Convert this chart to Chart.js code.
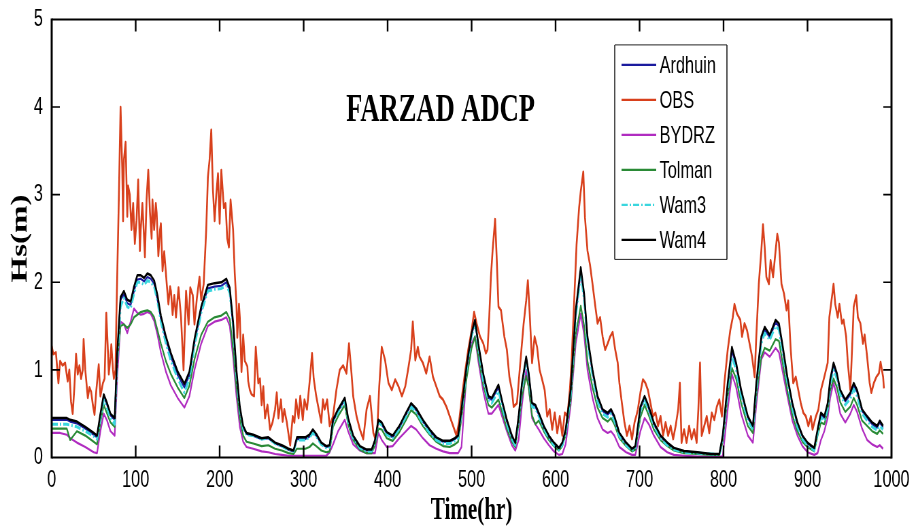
<!DOCTYPE html>
<html>
<head>
<meta charset="utf-8">
<title>FARZAD ADCP</title>
<script src="https://cdn.jsdelivr.net/npm/chart.js@4/dist/chart.umd.min.js"></script>
<style>
  html, body { margin: 0; padding: 0; background: #fff; overflow: hidden; }
  /* the source figure is horizontally squeezed, so draw wide and squeeze */
  #wrap { width: 1341px; height: 529px; transform: scaleX(0.68); transform-origin: 0 0; }
</style>
</head>
<body>
<div id="wrap"><canvas id="chart" width="1341" height="529"></canvas></div>
<script>
// hours shared by the five model runs
const modelHours = [
  0, 10, 18, 22, 30, 40, 50, 54, 58, 62,
  66, 70, 75, 78, 82, 86, 90, 94, 98, 102,
  106, 110, 114, 118, 122, 126, 130, 136, 142, 150,
  158, 164, 170, 178, 186, 194, 202, 208, 212, 216,
  220, 224, 228, 232, 240, 250, 258, 266, 274, 282,
  288, 292, 302, 307, 311, 315, 321, 327, 331, 335,
  341, 349, 353, 359, 367, 375, 381, 385, 389, 393,
  399, 406, 414, 422, 428, 434, 442, 450, 458, 466,
  474, 480, 484, 488, 494, 500, 504, 508, 514, 520,
  524, 532, 536, 542, 548, 552, 556, 560, 565, 568,
  572, 576, 580, 586, 592, 598, 604, 608, 612, 618,
  624, 630, 634, 638, 644, 650, 656, 662, 666, 670,
  676, 684, 691, 695, 701, 706, 711, 717, 725, 733,
  741, 753, 769, 785, 795, 799, 805, 810, 815, 821,
  829, 835, 839, 845, 849, 855, 862, 866, 870, 876,
  882, 888, 894, 900, 908, 912, 916, 920, 924, 927,
  931, 935, 939, 945, 951, 955, 959, 965, 971, 977,
  983, 986, 990
];

const ardhuin = [
  0.43, 0.43, 0.43, 0.41, 0.39, 0.33, 0.26, 0.23, 0.48, 0.7,
  0.6, 0.48, 0.43, 1.15, 1.8, 1.86, 1.76, 1.74, 1.9, 2.03,
  2.04, 2.01, 2.06, 2.04, 1.98, 1.8, 1.58, 1.34, 1.15, 0.94,
  0.8, 0.94, 1.31, 1.68, 1.93, 1.95, 1.96, 2.0, 1.9, 1.5,
  0.96, 0.55, 0.34, 0.27, 0.25, 0.21, 0.22, 0.16, 0.13, 0.09,
  0.07, 0.21, 0.21, 0.24, 0.3, 0.25, 0.16, 0.12, 0.13, 0.41,
  0.53, 0.66, 0.43, 0.23, 0.12, 0.08, 0.08, 0.19, 0.41, 0.38,
  0.27, 0.23, 0.34, 0.49, 0.6, 0.54, 0.41, 0.3, 0.21, 0.18,
  0.18, 0.21, 0.24, 0.53, 1.01, 1.4, 1.55, 1.28, 0.92, 0.68,
  0.66, 0.8, 0.64, 0.41, 0.23, 0.15, 0.45, 0.83, 1.13, 0.95,
  0.6, 0.58, 0.49, 0.34, 0.23, 0.15, 0.1, 0.15, 0.3, 0.74,
  1.64, 2.12, 1.84, 1.35, 0.97, 0.68, 0.53, 0.49, 0.53, 0.45,
  0.26, 0.16, 0.09, 0.12, 0.56, 0.68, 0.56, 0.38, 0.24, 0.16,
  0.1, 0.07, 0.05, 0.04, 0.04, 0.23, 0.82, 1.22, 1.05, 0.75,
  0.45, 0.35, 0.82, 1.35, 1.46, 1.37, 1.54, 1.5, 1.27, 0.9,
  0.6, 0.38, 0.24, 0.16, 0.1, 0.3, 0.49, 0.45, 0.6, 0.86,
  1.05, 0.93, 0.75, 0.64, 0.72, 0.82, 0.75, 0.53, 0.45, 0.38,
  0.34, 0.4, 0.34
];

const bydrz = [
  0.28, 0.28, 0.26, 0.22, 0.17, 0.12, 0.06, 0.05, 0.3, 0.5,
  0.42, 0.3, 0.25, 0.9, 1.55, 1.52, 1.42, 1.55, 1.7, 1.65,
  1.63, 1.64, 1.66, 1.64, 1.56, 1.4, 1.2, 0.98, 0.82, 0.68,
  0.57, 0.7, 1.0, 1.3, 1.5, 1.55, 1.57, 1.6, 1.5, 1.15,
  0.7, 0.35, 0.18, 0.12, 0.1, 0.07, 0.06, 0.04, 0.03, 0.02,
  0.02, 0.02, 0.02, 0.02, 0.02, 0.02, 0.02, 0.02, 0.06, 0.15,
  0.3, 0.43, 0.3, 0.15, 0.08, 0.05, 0.05, 0.05, 0.28, 0.2,
  0.12, 0.13, 0.22, 0.3, 0.36, 0.32, 0.22, 0.14, 0.1, 0.07,
  0.05, 0.05, 0.05, 0.12, 0.96, 1.3, 1.38, 1.1, 0.75, 0.5,
  0.5, 0.6, 0.48, 0.3, 0.14, 0.08, 0.2, 0.6, 1.0, 0.8,
  0.45, 0.38, 0.32, 0.22, 0.14, 0.07, 0.03, 0.04, 0.15, 0.6,
  1.3, 1.64, 1.4, 1.0, 0.68, 0.45, 0.32, 0.28, 0.3, 0.25,
  0.12, 0.06, 0.03, 0.03, 0.3, 0.45, 0.38, 0.25, 0.12, 0.06,
  0.03, 0.02, 0.01, 0.01, 0.01, 0.01, 0.55, 0.95, 0.8, 0.5,
  0.25, 0.17, 0.6, 1.12, 1.2, 1.15, 1.25, 1.2, 1.0, 0.7,
  0.42, 0.25, 0.13, 0.06, 0.03, 0.05, 0.2, 0.3, 0.45, 0.68,
  0.85, 0.7, 0.5, 0.4, 0.5, 0.6, 0.52, 0.33, 0.2, 0.15,
  0.12, 0.14, 0.1
];

const tolman = [
  0.33, 0.33, 0.33, 0.2, 0.3, 0.25, 0.18, 0.15, 0.4, 0.6,
  0.5, 0.4, 0.35, 1.1, 1.5, 1.52, 1.48, 1.52, 1.6, 1.63,
  1.66, 1.67, 1.68, 1.66, 1.6, 1.45, 1.3, 1.1, 0.95, 0.8,
  0.68, 0.82, 1.12, 1.4, 1.55, 1.6, 1.62, 1.66, 1.58, 1.25,
  0.8, 0.45, 0.25, 0.18, 0.16, 0.13, 0.14, 0.1, 0.08, 0.05,
  0.04, 0.1, 0.1, 0.12, 0.16, 0.13, 0.08, 0.06, 0.07, 0.35,
  0.47, 0.6, 0.38, 0.2, 0.09, 0.05, 0.05, 0.14, 0.33, 0.32,
  0.22, 0.19, 0.29, 0.43, 0.54, 0.49, 0.36, 0.26, 0.18, 0.13,
  0.12, 0.15, 0.18, 0.45, 0.9, 1.25, 1.38, 1.15, 0.82, 0.6,
  0.57, 0.66, 0.53, 0.33, 0.18, 0.12, 0.38, 0.7, 0.93, 0.8,
  0.48, 0.38, 0.42, 0.3, 0.2, 0.13, 0.08, 0.13, 0.26, 0.65,
  1.4, 1.73, 1.5, 1.1, 0.8, 0.57, 0.45, 0.41, 0.45, 0.38,
  0.22, 0.13, 0.07, 0.09, 0.46, 0.6, 0.48, 0.32, 0.2, 0.13,
  0.08, 0.05, 0.04, 0.03, 0.03, 0.18, 0.7, 1.02, 0.9, 0.62,
  0.36, 0.28, 0.7, 1.15, 1.25, 1.22, 1.35, 1.33, 1.1, 0.76,
  0.48, 0.3, 0.18, 0.12, 0.07, 0.25, 0.4, 0.38, 0.52, 0.76,
  0.9, 0.8, 0.63, 0.52, 0.58, 0.68, 0.6, 0.42, 0.36, 0.3,
  0.27, 0.31, 0.27
];

const wam3 = [
  0.38, 0.38, 0.38, 0.37, 0.35, 0.3, 0.24, 0.21, 0.45, 0.66,
  0.56, 0.45, 0.38, 1.1, 1.72, 1.82, 1.72, 1.7, 1.87, 2.0,
  2.0, 1.97, 2.02, 2.0, 1.95, 1.78, 1.55, 1.3, 1.1, 0.9,
  0.74, 0.9, 1.27, 1.65, 1.9, 1.92, 1.93, 1.96, 1.88, 1.5,
  0.95, 0.55, 0.33, 0.26, 0.25, 0.21, 0.22, 0.16, 0.13, 0.09,
  0.07, 0.2, 0.2, 0.23, 0.28, 0.24, 0.15, 0.11, 0.12, 0.4,
  0.52, 0.64, 0.42, 0.22, 0.11, 0.07, 0.07, 0.18, 0.4, 0.37,
  0.26, 0.22, 0.33, 0.47, 0.58, 0.52, 0.39, 0.28, 0.2, 0.16,
  0.16, 0.19, 0.22, 0.52, 1.0, 1.38, 1.53, 1.25, 0.87, 0.66,
  0.62, 0.76, 0.6, 0.38, 0.21, 0.14, 0.42, 0.8, 1.1, 0.92,
  0.58, 0.56, 0.47, 0.33, 0.22, 0.14, 0.09, 0.14, 0.28, 0.72,
  1.6, 2.1, 1.8, 1.32, 0.94, 0.64, 0.5, 0.46, 0.5, 0.42,
  0.24, 0.14, 0.08, 0.1, 0.53, 0.66, 0.53, 0.36, 0.22, 0.14,
  0.09, 0.06, 0.05, 0.04, 0.03, 0.2, 0.78, 1.15, 1.0, 0.7,
  0.42, 0.32, 0.78, 1.3, 1.42, 1.34, 1.5, 1.46, 1.22, 0.86,
  0.56, 0.35, 0.21, 0.14, 0.08, 0.28, 0.46, 0.42, 0.56, 0.82,
  1.0, 0.9, 0.72, 0.6, 0.67, 0.78, 0.7, 0.5, 0.42, 0.35,
  0.31, 0.36, 0.32
];

const wam4 = [
  0.45, 0.45, 0.45, 0.43, 0.41, 0.35, 0.28, 0.25, 0.5, 0.72,
  0.62, 0.5, 0.45, 1.2, 1.83, 1.9, 1.8, 1.78, 1.95, 2.08,
  2.08, 2.05, 2.1, 2.08, 2.02, 1.85, 1.62, 1.38, 1.19, 0.98,
  0.84, 0.98, 1.35, 1.72, 1.97, 1.99, 2.0, 2.04, 1.94, 1.55,
  1.0, 0.58, 0.36, 0.28, 0.26, 0.22, 0.23, 0.17, 0.14, 0.1,
  0.08, 0.23, 0.23, 0.26, 0.32, 0.27, 0.17, 0.13, 0.14, 0.43,
  0.55, 0.68, 0.45, 0.25, 0.13, 0.09, 0.09, 0.2, 0.43, 0.4,
  0.29, 0.25, 0.36, 0.51, 0.62, 0.56, 0.43, 0.32, 0.23, 0.19,
  0.19, 0.22, 0.25, 0.55, 1.04, 1.42, 1.57, 1.3, 0.95, 0.7,
  0.68, 0.83, 0.66, 0.43, 0.25, 0.17, 0.47, 0.85, 1.15, 0.96,
  0.62, 0.6, 0.51, 0.36, 0.25, 0.17, 0.11, 0.17, 0.32, 0.77,
  1.68, 2.17, 1.87, 1.38, 1.0, 0.7, 0.55, 0.51, 0.55, 0.47,
  0.28, 0.17, 0.1, 0.13, 0.58, 0.7, 0.58, 0.4, 0.25, 0.17,
  0.11, 0.075, 0.06, 0.04, 0.04, 0.25, 0.85, 1.26, 1.08, 0.77,
  0.47, 0.36, 0.85, 1.38, 1.49, 1.4, 1.57, 1.53, 1.3, 0.92,
  0.62, 0.4, 0.25, 0.17, 0.11, 0.32, 0.51, 0.47, 0.62, 0.89,
  1.08, 0.96, 0.77, 0.66, 0.74, 0.85, 0.77, 0.55, 0.47, 0.4,
  0.36, 0.42, 0.36
];

// ADCP observations (denser, noisy)
const obsHours = [
  0, 2, 5, 8, 10, 13, 16, 19, 21, 23,
  25, 27, 29, 31, 33, 35, 37, 38, 40, 43,
  45, 47, 49, 51, 53, 56, 58, 61, 63, 65,
  67, 68, 70, 71, 73, 74, 76, 77, 78, 80,
  82, 84, 85, 86, 88, 90, 91, 93, 95, 97,
  99, 101, 103, 105, 106, 108, 110, 111, 113, 115,
  117, 119, 120, 122, 124, 125, 127, 129, 130, 132,
  134, 137, 139, 141, 142, 144, 146, 148, 151, 154,
  157, 160, 163, 165, 168, 170, 173, 176, 178, 181,
  184, 186, 188, 190, 192, 194, 196, 198, 200, 202,
  205, 207, 209, 211, 213, 216, 218, 220, 221, 223,
  224, 226, 228, 230, 233, 234, 236, 238, 241, 243,
  246, 248, 250, 252, 254, 257, 260, 263, 266, 268,
  270, 273, 275, 277, 280, 283, 284, 287, 289, 291,
  294, 296, 299, 301, 304, 307, 310, 312, 315, 318,
  321, 323, 325, 328, 331, 335, 339, 343, 347, 351,
  354, 357, 359, 363, 367, 371, 375, 379, 383, 387,
  390, 393, 397, 401, 405, 409, 413, 417, 421, 425,
  428, 430, 433, 436, 438, 442, 446, 450, 454, 458,
  462, 466, 470, 474, 478, 482, 485, 488, 492, 496,
  500, 503, 506, 510, 514, 517, 519, 521, 523, 525,
  528, 530, 532, 535, 537, 539, 542, 545, 548, 550,
  554, 558, 562, 565, 567, 569, 572, 575, 578, 581,
  584, 587, 590, 593, 596, 599, 602, 605, 608, 611,
  614, 617, 619, 622, 625, 628, 630, 633, 635, 638,
  641, 644, 647, 650, 653, 656, 659, 662, 665, 668,
  671, 674, 676, 679, 682, 685, 688, 691, 694, 696,
  698, 701, 704, 707, 710, 713, 716, 719, 722, 725,
  728, 731, 734, 737, 740, 743, 746, 748, 750, 753,
  756, 759, 762, 765, 768, 770, 772, 774, 777, 780,
  783, 786, 789, 792, 795, 798, 801, 805, 808, 811,
  813, 816, 820, 822, 825, 828, 831, 834, 837, 839,
  842, 845, 847, 849, 851, 854, 856, 859, 862, 864,
  866, 869, 872, 875, 877, 880, 883, 886, 889, 892,
  895, 898, 901, 904, 906, 910, 913, 916, 920, 924,
  926, 930, 931, 933, 936, 938, 941, 943, 946, 948,
  951, 953, 955, 958, 960, 963, 966, 968, 971, 974,
  976, 979, 982, 985, 987, 990, 991
];

const obs = [
  1.27, 1.18, 1.2, 0.85, 1.1, 1.05, 1.08, 0.87, 1.0, 0.64,
  0.5, 0.8, 1.18, 0.95, 1.05, 0.9, 1.0, 1.35, 1.0, 0.68,
  0.8, 0.75, 0.6, 0.49, 0.75, 1.06, 0.7, 0.85, 0.9, 1.65,
  1.2, 0.95, 1.15, 1.29, 1.0, 0.9, 1.0, 1.6, 2.06, 2.98,
  4.0, 3.3, 2.7, 3.4, 3.6, 2.75, 3.1, 3.0, 2.6, 2.9,
  2.44, 2.7, 3.17, 2.36, 2.6, 2.9, 2.5, 2.29, 2.95, 3.28,
  2.8, 2.5, 2.94, 2.6, 2.9, 2.79, 2.3, 2.6, 2.67, 2.13,
  2.35, 1.98, 1.75, 1.95, 1.9, 1.63, 1.85, 1.6, 1.94, 1.6,
  1.0, 1.9, 1.52, 1.94, 1.85, 1.52, 1.83, 2.06, 1.8, 1.98,
  2.6, 3.2, 3.4, 3.74, 3.05, 2.7, 3.0, 3.24, 2.67, 3.28,
  2.85, 2.9, 2.5, 2.4, 2.94, 2.6, 2.1, 1.75, 1.37, 1.75,
  1.6, 0.98, 1.4, 1.1, 1.04, 0.87, 0.77, 0.72, 0.7, 1.26,
  0.85, 0.9, 0.6, 0.81, 0.45, 0.6, 0.32, 0.4, 0.55, 0.74,
  0.45, 0.66, 0.41, 0.55, 0.4, 0.2, 0.14, 0.47, 0.4, 0.66,
  0.45, 0.7, 0.43, 0.66, 0.55, 0.85, 1.19, 0.9, 0.7, 0.55,
  0.4, 0.66, 0.55, 0.66, 0.36, 0.47, 0.77, 1.0, 1.05, 0.96,
  1.3, 0.96, 0.7, 0.47, 0.32, 0.21, 0.55, 0.7, 0.28, 0.17,
  0.81, 1.26, 1.11, 0.85, 0.77, 0.89, 0.81, 0.7, 0.81, 1.04,
  1.23, 1.55, 1.11, 1.26, 1.15, 1.08, 0.96, 1.15, 0.92, 0.81,
  0.7, 0.66, 0.58, 0.47, 0.36, 0.25, 0.4, 0.66, 0.96, 1.23,
  1.45, 1.66, 1.53, 1.38, 1.3, 1.19, 1.23, 1.6, 2.06, 2.36,
  2.72, 2.25, 1.72, 1.68, 1.53, 1.38, 1.23, 0.92, 0.77, 0.58,
  0.62, 1.08, 1.53, 1.79, 2.02, 1.68, 1.08, 1.38, 1.26, 1.0,
  0.89, 0.77, 0.47, 0.55, 0.32, 0.51, 0.28, 0.47, 0.25, 0.51,
  0.47, 0.77, 1.08, 1.75, 2.43, 2.85, 3.04, 3.26, 2.74, 2.36,
  2.2, 1.98, 1.75, 1.53, 1.6, 1.38, 1.23, 1.3, 1.38, 1.43,
  1.23, 1.08, 0.85, 0.62, 0.4, 0.25, 0.36, 0.21, 0.4, 0.47,
  0.55, 0.74, 0.89, 0.85, 0.77, 0.62, 0.47, 0.51, 0.36, 0.47,
  0.25, 0.4, 0.25, 0.36, 0.21, 0.36, 0.55, 0.85, 0.17, 0.32,
  0.17, 0.36, 0.21, 0.32, 0.17, 0.55, 1.08, 0.25, 0.36, 0.47,
  0.28, 0.51, 0.43, 0.58, 0.66, 0.47, 0.85, 1.23, 1.45, 1.6,
  1.75, 1.64, 1.57, 1.38, 1.53, 1.45, 1.3, 1.15, 0.92, 1.38,
  1.98, 2.36, 2.66, 2.4, 2.06, 1.98, 2.25, 2.06, 2.36, 2.55,
  2.45, 1.98, 1.87, 1.68, 1.79, 1.23, 0.85, 0.92, 0.77, 0.62,
  0.51, 0.47, 0.36, 0.47, 0.32, 0.47, 0.55, 0.77, 0.92, 1.08,
  1.6, 1.9, 1.98, 1.75, 1.6, 1.75, 1.53, 1.57, 1.38, 1.08,
  0.77, 1.23, 1.72, 1.85, 1.6, 1.53, 1.3, 1.4, 1.15, 0.85,
  0.74, 0.85, 0.92, 0.96, 1.09, 0.92, 0.79
];

const xTicks = [0, 100, 200, 300, 400, 500, 600, 700, 800, 900, 1000];
const yTicks = [0, 1, 2, 3, 4, 5];

const SANS = '"Liberation Sans", Arial, sans-serif';
const SERIF = '"Liberation Serif", "Times New Roman", serif';
const TICK_LEN = 12;

function pairs(hours, values) {
  return hours.map((h, i) => ({ x: h, y: values[i] }));
}

// MATLAB-style box with inward ticks on all four sides
const frameTicks = {
  id: 'frameTicks',
  afterDatasetsDraw(chart) {
    const { ctx, chartArea: a, scales: { x, y } } = chart;
    ctx.save();
    ctx.strokeStyle = '#000';
    ctx.lineWidth = 2.4;
    xTicks.forEach(v => {
      if (v <= x.min || v >= x.max) return;
      const px = x.getPixelForValue(v);
      ctx.beginPath();
      ctx.moveTo(px, a.bottom); ctx.lineTo(px, a.bottom - TICK_LEN);
      ctx.moveTo(px, a.top); ctx.lineTo(px, a.top + TICK_LEN);
      ctx.stroke();
    });
    ctx.lineWidth = 1.7;
    yTicks.forEach(v => {
      if (v <= y.min || v >= y.max) return;
      const py = y.getPixelForValue(v);
      ctx.beginPath();
      ctx.moveTo(a.left, py); ctx.lineTo(a.left + TICK_LEN, py);
      ctx.moveTo(a.right, py); ctx.lineTo(a.right - TICK_LEN, py);
      ctx.stroke();
    });
    // frame
    ctx.lineWidth = 2;
    ctx.beginPath();
    ctx.moveTo(a.left, a.top); ctx.lineTo(a.right, a.top);
    ctx.moveTo(a.left, a.bottom); ctx.lineTo(a.right, a.bottom);
    ctx.stroke();
    ctx.lineWidth = 3;
    ctx.beginPath();
    ctx.moveTo(a.left, a.top - 1); ctx.lineTo(a.left, a.bottom + 1);
    ctx.moveTo(a.right, a.top - 1); ctx.lineTo(a.right, a.bottom + 1);
    ctx.stroke();
    ctx.restore();
  }
};

// title inside the axes and the boxed legend
const boxedLegend = {
  id: 'boxedLegend',
  afterDraw(chart) {
    const { ctx, chartArea: a, scales: { x, y } } = chart;
    ctx.save();
    ctx.fillStyle = '#000';
    ctx.font = 'bold 39px ' + SERIF;
    ctx.textAlign = 'center';
    ctx.textBaseline = 'middle';
    ctx.fillText('FARZAD ADCP', x.getPixelForValue(463), y.getPixelForValue(3.96));

    const left = a.left + 828, top = a.top + 25.5;
    const w = 165, h = 214.5;
    ctx.fillStyle = '#fff';
    ctx.fillRect(left, top, w, h);
    ctx.strokeStyle = '#222';
    ctx.lineWidth = 1;
    ctx.beginPath();
    ctx.moveTo(left, top); ctx.lineTo(left + w, top);
    ctx.moveTo(left, top + h); ctx.lineTo(left + w, top + h);
    ctx.stroke();
    ctx.lineWidth = 1.6;
    ctx.beginPath();
    ctx.moveTo(left, top); ctx.lineTo(left, top + h);
    ctx.moveTo(left + w, top); ctx.lineTo(left + w, top + h);
    ctx.stroke();

    ctx.font = '24px ' + SANS;
    ctx.textAlign = 'left';
    chart.data.datasets.forEach((ds, i) => {
      const ry = top + 20 + i * 35;
      ctx.strokeStyle = ds.borderColor;
      ctx.lineWidth = 2.4;
      ctx.setLineDash(ds.borderDash || []);
      ctx.beginPath();
      ctx.moveTo(left + 10, ry);
      ctx.lineTo(left + 61, ry);
      ctx.stroke();
      ctx.setLineDash([]);
      ctx.fillStyle = '#000';
      ctx.fillText(ds.label, left + 66, ry + 1);
    });
    ctx.restore();
  }
};

const lineStyle = { pointRadius: 0, tension: 0, borderJoinStyle: 'round', fill: false };

new Chart(document.getElementById('chart'), {
  type: 'line',
  data: {
    datasets: [
      { ...lineStyle, label: 'Ardhuin', data: pairs(modelHours, ardhuin), borderColor: '#1b1b9e', borderWidth: 2.2, order: 6 },
      { ...lineStyle, label: 'OBS', data: pairs(obsHours, obs), borderColor: '#d8401c', borderWidth: 2.6, order: 5 },
      { ...lineStyle, label: 'BYDRZ', data: pairs(modelHours, bydrz), borderColor: '#b02cc0', borderWidth: 2.2, order: 4 },
      { ...lineStyle, label: 'Tolman', data: pairs(modelHours, tolman), borderColor: '#2a8a36', borderWidth: 2.2, order: 3 },
      { ...lineStyle, label: 'Wam3', data: pairs(modelHours, wam3), borderColor: '#3ad6de', borderWidth: 3, borderDash: [9, 3, 2, 3], order: 2 },
      { ...lineStyle, label: 'Wam4', data: pairs(modelHours, wam4), borderColor: '#000000', borderWidth: 2.5, order: 1 }
    ]
  },
  options: {
    responsive: false,
    animation: false,
    layout: { padding: { left: 0, right: 30, top: 17.5, bottom: 0 } },
    plugins: { legend: { display: false }, tooltip: { enabled: false } },
    scales: {
      x: {
        type: 'linear',
        min: 0, max: 1000,
        afterBuildTicks(scale) { scale.ticks = xTicks.map(v => ({ value: v })); },
        afterFit(scale) { scale.height = 71.5; },
        grid: { display: false },
        border: { display: false },
        ticks: {
          color: '#000', font: { family: SANS, size: 24 }, padding: 0, maxRotation: 0, autoSkip: false,
          callback: v => String(v)
        },
        title: {
          display: true, text: 'Time(hr)', color: '#000',
          font: { family: SERIF, size: 31, weight: 'bold', lineHeight: 1 },
          padding: { top: 0, bottom: 3 }
        }
      },
      y: {
        min: 0, max: 5,
        afterBuildTicks(scale) { scale.ticks = yTicks.map(v => ({ value: v })); },
        afterFit(scale) { scale.width = 76; },
        grid: { display: false },
        border: { display: false },
        ticks: { color: '#000', font: { family: SANS, size: 24 }, padding: 5, callback: v => String(v) },
        title: {
          display: true, text: 'Hs(m)', color: '#000',
          font: { family: SERIF, size: 33, weight: 'bold', lineHeight: 1 },
          padding: { top: 14, bottom: 0 }
        }
      }
    }
  },
  plugins: [frameTicks, boxedLegend]
});
</script>
</body>
</html>
